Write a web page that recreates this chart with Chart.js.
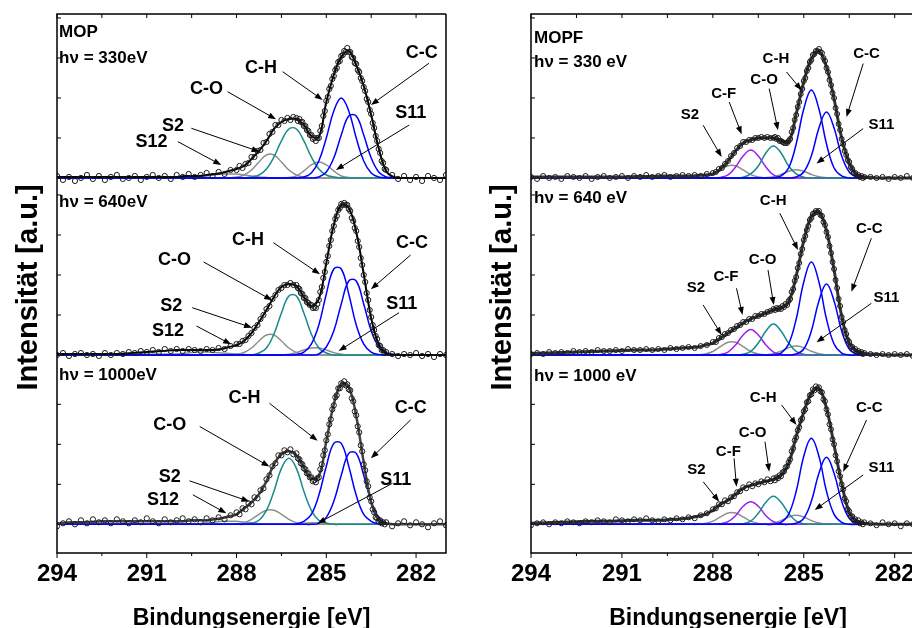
<!DOCTYPE html>
<html>
<head>
<meta charset="utf-8">
<script src="https://cdn.jsdelivr.net/npm/chart.js@4.4.1/dist/chart.umd.min.js"></script>
<style>
  html, body { margin: 0; padding: 0; background: #fff; width: 912px; height: 628px; overflow: hidden; }
  canvas { position: absolute; top: 0; }
  #mop { left: 0; }
  #mopf { left: 470px; }
</style>
</head>
<body>
<canvas id="mop" width="460" height="628"></canvas>
<canvas id="mopf" width="470" height="628"></canvas>
<script>
// binding energy grids [eV]
const dataE = [
  294, 293.8, 293.6, 293.4, 293.2, 293, 292.8, 292.6, 292.4, 292.2, 292, 291.8, 291.6, 291.4, 291.2,
  291, 290.8, 290.6, 290.4, 290.2, 290, 289.8, 289.6, 289.4, 289.2, 289, 288.8, 288.6, 288.4, 288.2,
  288, 287.9, 287.8, 287.7, 287.6, 287.5, 287.4, 287.3, 287.2, 287.1,
  287, 286.9, 286.8, 286.7, 286.6, 286.5, 286.4, 286.3, 286.2, 286.1,
  286, 285.95, 285.9, 285.85, 285.8, 285.75, 285.7, 285.65, 285.6, 285.55, 285.5, 285.45, 285.4, 285.35, 285.3,
  285.25, 285.2, 285.15, 285.1, 285.05, 285, 284.95, 284.9, 284.85, 284.8, 284.75, 284.7, 284.65, 284.6, 284.55,
  284.5, 284.45, 284.4, 284.35, 284.3, 284.25, 284.2, 284.15, 284.1, 284.05, 284, 283.95, 283.9, 283.85, 283.8,
  283.75, 283.7, 283.65, 283.6, 283.55, 283.5, 283.45, 283.4, 283.35, 283.3, 283.25, 283.2, 283.15, 283.1, 283.05, 283,
  282.8, 282.6, 282.4, 282.2, 282, 281.8, 281.6, 281.4, 281.2, 281
];
const fitE = [
  294, 293.5, 293, 292.5, 292, 291.5, 291, 290.5,
  290, 289.75, 289.5, 289.25, 289, 288.75, 288.5, 288.25, 288, 287.75, 287.5, 287.25, 287, 286.75, 286.5, 286.25,
  286, 285.75, 285.5, 285.25, 285, 284.75, 284.5, 284.25, 284, 283.75, 283.5, 283.25, 283, 282.75, 282.5, 282.25, 282,
  281.5, 281
];
const compE = [
  294,
  290, 289.75, 289.5, 289.25, 289, 288.75, 288.5, 288.25, 288, 287.75, 287.5, 287.25, 287, 286.75, 286.5, 286.25,
  286, 285.75, 285.5, 285.25, 285, 284.75, 284.5, 284.25, 284, 283.75, 283.5, 283.25, 283, 282.75, 282.5, 282.25, 282,
  281
];

const xTicks = [294, 291, 288, 285, 282];
const xMinor = [292.5, 289.5, 286.5, 283.5];

// MOP, hv = 330 eV
const mop330Data = [
  2, -2, 1, -3, 0, 3, -1, 2, -2, 1, 3, -1, 0, 2, -2, 1, 3, 0, 2, -1, 3, 1, 4, 1, 3, 5, 2, 6, 4, 8,
  8, 12, 10, 14, 15, 21, 21, 27, 28, 35, 36, 44, 46, 53, 53, 58, 57, 60, 58, 61,
  60, 57, 59, 56, 56, 52, 52, 48, 47, 43, 43, 39, 40, 37, 40, 40, 47, 52, 62, 67, 77, 81, 89, 92, 99,
  102, 108, 110, 116, 117, 122, 123, 127, 126, 130, 126, 126, 121, 120, 115, 114, 108, 106, 100, 97,
  91, 87, 79, 76, 68, 64, 55, 50, 42, 37, 29, 25, 17, 15, 9, 8,
  3, -1, 2, -2, 1, -3, 2, 0, -2, 3
];
const mop330Fit = [1, 1, 1, 1, 1, 1, 1, 1,
  1, 2, 2, 2, 3, 4, 5, 7, 9, 12, 19, 27, 37, 49, 56, 59, 59, 53, 42, 41, 76, 103, 121, 127, 113, 92, 63, 30, 7, 1, 0, 0, 0,
  0, 0];
const mop330CC  = [0,0,0,0,0,0,0,0,0,0, 0,0,0,0,0,0,0,0,0,0, 1,6,20,43,62,62,43,20,6,1, 0,0,0,0,0];
const mop330CH  = [0,0,0,0,0,0,0,0,0,0, 0,0,0,0,0,0,0,0, 1,5,17,40,67,80,67,40,17,5,1, 0,0,0,0,0,0];
const mop330CO  = [0,0,0,0,0,0,0,0,0,0, 0, 1,3,9,21,37,49,49,37,21,9,3,1, 0,0,0,0,0,0,0,0,0,0,0,0];
const mop330S2  = [0,0,0,0,0,0,0,0,0, 1,3,8,16,23,23,16,8,3,1, 0,0,0,0,0,0,0,0,0,0,0,0,0,0,0,0];
const mop330S11 = [0,0,0,0,0,0,0,0,0,0,0,0,0,0,0,0, 0.5,2,7,13,16,13,7,2,0.5, 0,0,0,0,0,0,0,0,0,0];
const mop330S12 = [0,0,0, 0.5,1,2,3,4,4,4,3,2,1,0.5, 0,0,0,0,0,0,0,0,0,0,0,0,0,0,0,0,0,0,0,0,0];

// MOP, hv = 640 eV
const mop640Data = [
  0, 2, -1, 1, 2, 0, 1, -1, 2, 0, 2, 1, 3, 2, 4, 3, 5, 3, 6, 4, 6, 4, 6, 5, 4, 6, 5, 7, 6, 9,
  11, 11, 14, 15, 19, 22, 27, 30, 36, 40, 46, 49, 56, 60, 65, 67, 70, 70, 72, 70,
  70, 67, 66, 62, 61, 57, 57, 53, 52, 50, 50, 47, 48, 47, 51, 55, 63, 68, 77, 83, 93, 99, 109, 115, 124,
  129, 136, 139, 145, 147, 151, 150, 152, 150, 150, 146, 144, 137, 134, 127, 124, 114, 108, 97, 90,
  80, 73, 62, 55, 45, 38, 30, 25, 19, 16, 10, 9, 5, 5, 2, 3,
  1, -1, 1, 0, 2, -1, 1, -2, 1, 0
];
const mop640Fit = [1, 1, 1, 1, 1, 2, 3, 4,
  5, 5, 5, 5, 5, 5, 6, 8, 10, 14, 22, 33, 45, 58, 68, 71, 69, 58, 49, 56, 92, 130, 150, 147, 123, 81, 37, 11, 2, 0.5, 0, 0, 0,
  0, 0];
const mop640CC  = [0,0,0,0,0,0,0,0,0,0, 0,0,0,0,0,0,0,0,0,0, 1,8,24,51,74,74,51,24,8,1, 0,0,0,0,0];
const mop640CH  = [0,0,0,0,0,0,0,0,0,0, 0,0,0,0,0,0,0, 0.5,3,11,30,61,86,86,61,30,11,3,0.5, 0,0,0,0,0,0];
const mop640CO  = [0,0,0,0,0,0,0,0,0,0, 0,0, 2,7,21,42,59,59,42,21,7,2, 0,0,0,0,0,0,0,0,0,0,0,0,0];
const mop640S2  = [0,0,0,0,0,0,0,0,0, 0.6,2.5,7,14,20,20,14,7,2.5,0.6, 0,0,0,0,0,0,0,0,0,0,0,0,0,0,0,0];
const mop640S11 = [0,0,0,0,0,0,0,0,0,0,0,0,0,0,0,0, 0.8,2.4,5,7,7,5,2.4,0.8, 0,0,0,0,0,0,0,0,0,0,0];
const mop640S12 = [0, 1,1.5,2.5,3,3,2.5,2,1.5,1,0.5, 0,0,0,0,0,0,0,0,0,0,0,0,0,0,0,0,0,0,0,0,0,0,0,0];

// MOP, hv = 1000 eV
const mop1000Data = [
  -2, 1, 3, 0, 4, 1, 5, 2, 4, 1, 5, 3, 1, 4, 2, 6, 3, 1, 5, 2, 4, 6, 3, 5, 2, 6, 4, 7, 5, 9,
  12, 10, 16, 15, 21, 20, 27, 26, 34, 36, 45, 49, 58, 61, 69, 69, 74, 72, 75, 70,
  71, 66, 65, 61, 60, 56, 55, 51, 51, 47, 47, 43, 44, 42, 46, 47, 55, 60, 69, 74, 84, 90, 100, 105, 115,
  119, 127, 129, 136, 136, 141, 140, 143, 139, 140, 135, 134, 126, 123, 113, 109, 98, 92, 79, 73,
  60, 54, 43, 38, 27, 23, 15, 12, 7, 6, 3, 4, 1, 2, 0, 2,
  -2, 1, 3, -1, 2, 0, -3, 1, 3, -1
];
const mop1000Fit = [1, 2, 2, 3, 3, 3, 3, 3,
  3, 3, 4, 4, 4, 5, 6, 8, 10, 16, 22, 30, 43, 60, 70, 73, 69, 57, 46, 48, 83, 120, 140, 137, 108, 62, 22, 4, 1, 0, 0, 0, 0,
  0, 0];
const mop1000CC  = [0,0,0,0,0,0,0,0,0,0, 0,0,0,0,0,0,0,0,0,0, 1,7,23,49,71,71,49,23,7,1, 0,0,0,0,0];
const mop1000CH  = [0,0,0,0,0,0,0,0,0,0, 0,0,0,0,0,0,0, 0.4,3,10,29,58,81,81,58,29,10,3,0.4, 0,0,0,0,0,0];
const mop1000CO  = [0,0,0,0,0,0,0,0,0,0, 0, 1,4,14,33,56,66,56,33,14,4,1, 0,0,0,0,0,0,0,0,0,0,0,0,0];
const mop1000S2  = [0,0,0,0,0,0,0,0,0, 0.4,1.7,5,10,14,14,10,5,1.7,0.4, 0,0,0,0,0,0,0,0,0,0,0,0,0,0,0,0];
const mop1000S11 = [0,0,0,0,0,0,0,0,0,0,0,0,0,0,0,0,0,0, 1,1.5,1.5,1, 0,0,0,0,0,0,0,0,0,0,0,0,0];
const mop1000S12 = [0,0,0,0, 0.5,1.5,2,3,3,3,2,1.5,0.5, 0,0,0,0,0,0,0,0,0,0,0,0,0,0,0,0,0,0,0,0,0,0];

// MOPF, hv = 330 eV
const mopf330Data = [
  1, -1, 2, 0, 1, -1, 2, 1, 0, 2, -1, 1, 2, 0, 1, 2, 0, 2, 1, 3, 1, 2, 3, 1, 2, 3, 2, 3, 2, 4,
  5, 6, 9, 10, 14, 17, 22, 25, 30, 32, 36, 36, 38, 38, 40, 40, 41, 40, 41, 40,
  40, 41, 39, 40, 37, 37, 36, 35, 35, 35, 37, 39, 46, 50, 58, 63, 71, 76, 84, 89, 97, 100, 107, 110, 116,
  118, 123, 124, 127, 127, 129, 126, 125, 120, 117, 110, 106, 98, 93, 85, 80, 70, 64, 54, 48,
  39, 34, 27, 23, 18, 16, 11, 9, 5, 5, 2, 3, 1, 2, 0, 1,
  1, 0, 1, -1, 1, 0, 2, 0, 1, -1
];
const mopf330Fit = [1, 1, 1, 1, 1, 1, 1, 1.5,
  1.5, 2, 2, 2, 2, 2, 2.5, 3, 4, 9, 17, 27, 35, 38, 40, 40, 40, 37, 36, 64, 96, 119, 127, 111, 79, 40, 15, 3, 1, 0.5, 0, 0, 0,
  0, 0];
const mopf330CH  = [0,0,0,0,0,0,0,0,0,0, 0,0,0,0,0,0,0,0, 2,10,34,69,88,69,34,10,2, 0,0,0,0,0,0,0,0];
const mopf330CC  = [0,0,0,0,0,0,0,0,0,0, 0,0,0,0,0,0,0,0,0,0, 1,6,22,50,66,50,22,6,1, 0,0,0,0,0,0];
const mopf330CO  = [0,0,0,0,0,0,0,0,0,0, 0,0,0, 0.7,4,12,25,32,25,12,4,0.7, 0,0,0,0,0,0,0,0,0,0,0,0,0];
const mopf330CF  = [0,0,0,0,0,0,0,0,0,0, 0.6,3,11,22,28,22,11,3,0.6, 0,0,0,0,0,0,0,0,0,0,0,0,0,0,0,0];
const mopf330S2  = [0,0,0,0,0,0,0,0, 1,3.4,8,12.3,12.3,8,3.4,1, 0,0,0,0,0,0,0,0,0,0,0,0,0,0,0,0,0,0,0];
const mopf330S11 = [0,0,0,0,0,0,0,0,0,0,0,0,0,0,0,0, 0.3,1.2,3.5,6.7,8.3,6.7,3.5,1.2,0.3, 0,0,0,0,0,0,0,0,0,0];

// MOPF, hv = 640 eV
const mopf640Data = [
  1, 2, 1, 3, 2, 3, 2, 4, 3, 4, 3, 5, 4, 4, 5, 4, 6, 5, 5, 6, 5, 6, 5, 7, 6, 7, 8, 7, 9, 10,
  13, 13, 17, 18, 21, 22, 25, 26, 29, 30, 33, 33, 36, 36, 39, 39, 41, 41, 43, 44,
  46, 45, 47, 46, 47, 46, 49, 48, 51, 50, 54, 56, 63, 66, 74, 78, 87, 92, 101, 106, 115, 119, 125, 129, 135,
  137, 141, 142, 144, 143, 144, 140, 139, 133, 130, 123, 118, 109, 102, 93, 86, 75, 67, 56, 49,
  38, 33, 25, 21, 15, 13, 9, 8, 5, 6, 3, 4, 2, 3, 1, 2,
  1, 0, 1, 0, 1, 0, 1, -1, 0, 1
];
const mopf640Fit = [1.5, 2, 2.5, 3, 3.5, 4, 4.5, 5,
  5, 5.5, 6, 6.5, 7, 7.5, 8, 10, 12, 17, 22, 27, 32, 36, 39, 42, 45, 47, 53, 79, 114, 138, 143, 124, 85, 39, 12, 4, 1.5, 1, 0.5, 0, 0,
  0, 0];
const mopf640CH  = [0,0,0,0,0,0,0,0,0,0, 0,0,0,0,0,0,0,0, 2,11,36,73,93,73,36,11,2, 0,0,0,0,0,0,0,0];
const mopf640CC  = [0,0,0,0,0,0,0,0,0,0, 0,0,0,0,0,0,0,0,0,0, 1,6,24,54,71,54,24,6,1, 0,0,0,0,0,0];
const mopf640CO  = [0,0,0,0,0,0,0,0,0,0, 0,0,0, 0.7,3.6,12,24,31,24,12,3.6,0.7, 0,0,0,0,0,0,0,0,0,0,0,0,0];
const mopf640CF  = [0,0,0,0,0,0,0,0,0,0, 0.5,3,10,20,25.5,20,10,3,0.5, 0,0,0,0,0,0,0,0,0,0,0,0,0,0,0,0];
const mopf640S2  = [0,0,0,0,0,0,0,0, 1,3.5,8.3,12.8,12.8,8.3,3.5,1, 0,0,0,0,0,0,0,0,0,0,0,0,0,0,0,0,0,0,0];
const mopf640S11 = [0,0,0,0,0,0,0,0,0,0,0,0,0,0,0,0, 0.3,1.3,3.8,7.3,9,7.3,3.8,1.3,0.3, 0,0,0,0,0,0,0,0,0,0];

// MOPF, hv = 1000 eV
const mopf1000Data = [
  -1, 1, 2, 0, 2, 1, 3, 2, 1, 3, 2, 4, 3, 2, 5, 4, 3, 5, 4, 6, 4, 3, 5, 4, 6, 5, 7, 6, 9, 11,
  15, 16, 20, 20, 24, 23, 27, 28, 32, 33, 37, 36, 40, 38, 41, 40, 43, 42, 45, 43,
  46, 44, 47, 46, 49, 48, 52, 53, 57, 58, 62, 65, 73, 76, 84, 87, 94, 97, 104, 106, 113, 115, 122, 123, 129,
  130, 135, 134, 138, 136, 137, 133, 132, 125, 123, 115, 110, 100, 95, 85, 80, 69, 63, 53, 48,
  40, 35, 26, 23, 15, 13, 8, 8, 4, 5, 2, 4, 1, 2, 0, 2,
  1, -1, 2, 0, 1, -2, 1, 0, 2, -1
];
const mopf1000Fit = [1, 1.5, 2, 2.5, 3, 3, 3.5, 4,
  4, 4, 4.5, 5, 5.5, 6.5, 8, 10, 14, 20, 24, 30, 36, 39, 41, 43, 45, 49, 61, 88, 112, 131, 136, 116, 79, 41, 12, 3, 1, 0.5, 0, 0, 0,
  0, 0];
const mopf1000CH  = [0,0,0,0,0,0,0,0,0,0, 0,0,0,0,0,0,0,0, 2,10,33,68,86,68,33,10,2, 0,0,0,0,0,0,0,0];
const mopf1000CC  = [0,0,0,0,0,0,0,0,0,0, 0,0,0,0,0,0,0,0,0,0, 1,6,23,51,67,51,23,6,1, 0,0,0,0,0,0];
const mopf1000CO  = [0,0,0,0,0,0,0,0,0,0, 0,0,0, 0.6,3.2,11,22,28,22,11,3.2,0.6, 0,0,0,0,0,0,0,0,0,0,0,0,0];
const mopf1000CF  = [0,0,0,0,0,0,0,0,0,0, 0.5,2.6,8.6,18,22.5,18,8.6,2.6,0.5, 0,0,0,0,0,0,0,0,0,0,0,0,0,0,0,0];
const mopf1000S2  = [0,0,0,0,0,0,0,0, 0.9,3.2,7.4,11.4,11.4,7.4,3.2,0.9, 0,0,0,0,0,0,0,0,0,0,0,0,0,0,0,0,0,0,0];
const mopf1000S11 = [0,0,0,0,0,0,0,0,0,0,0,0,0,0,0,0, 0.3,1.3,3.8,7.3,9,7.3,3.8,1.3,0.3, 0,0,0,0,0,0,0,0,0,0];

// peak labels: [axis, text, label E, label I, arrow from E, from I, arrow to E, to I]
const mopLabels = [
  ['yTop', 'C-O', 289.0, 88.7, 288.3, 86.3, 286.68, 58.7],
  ['yTop', 'C-H', 287.18, 109.7, 286.46, 106.3, 285.12, 78],
  ['yTop', 'C-C', 281.81, 124.7, 281.57, 114.7, 283.51, 73],
  ['yTop', 'S11', 282.18, 64.7, 282.23, 53, 284.68, 8],
  ['yTop', 'S2', 290.12, 52, 289.51, 49.7, 287.23, 26.3],
  ['yTop', 'S12', 290.84, 36.3, 289.96, 36.3, 288.51, 13],
  ['yMid', 'C-O', 290.07, 94.7, 289.1, 93, 286.81, 54.7],
  ['yMid', 'C-H', 287.62, 114.7, 286.77, 112.3, 285.21, 80.7],
  ['yMid', 'C-C', 282.14, 112.3, 282.18, 100, 283.51, 65.7],
  ['yMid', 'S11', 282.48, 50.7, 282.57, 42.3, 284.59, 4],
  ['yMid', 'S2', 290.18, 49, 289.48, 47.3, 287.48, 27.3],
  ['yMid', 'S12', 290.29, 24, 289.34, 29, 288.18, 10.7],
  ['yBot', 'C-O', 290.23, 99.5, 289.23, 97.8, 286.9, 57.8],
  ['yBot', 'C-H', 287.73, 126, 286.9, 121, 285.29, 83.5],
  ['yBot', 'C-C', 282.18, 116, 282.18, 104.5, 283.51, 66],
  ['yBot', 'S11', 282.68, 44.5, 282.79, 41, 285.29, 1],
  ['yBot', 'S2', 290.23, 46.8, 289.57, 43.5, 287.57, 22.8],
  ['yBot', 'S12', 290.46, 24.5, 289.46, 29.5, 288.34, 11]
];
const mopfLabels = [
  ['yTop', 'S2', 288.76, 62.7, 288.32, 52.7, 287.71, 21],
  ['yTop', 'C-F', 287.64, 83.7, 287.46, 76, 287.05, 43.7],
  ['yTop', 'C-O', 286.31, 97.7, 286.14, 89.4, 285.85, 47.7],
  ['yTop', 'C-H', 285.92, 119.4, 285.57, 106, 285.07, 87.7],
  ['yTop', 'C-C', 282.93, 124.4, 283.04, 114.4, 283.59, 61],
  ['yTop', 'S11', 282.44, 52.7, 283.04, 49.4, 284.58, 14.4],
  ['yMid', 'S2', 288.56, 66.7, 288.32, 50, 287.71, 20],
  ['yMid', 'C-F', 287.57, 78.3, 287.22, 66.7, 287.02, 40],
  ['yMid', 'C-O', 286.36, 95, 286.18, 85, 285.99, 50],
  ['yMid', 'C-H', 286.01, 154.3, 285.79, 141.7, 285.19, 105],
  ['yMid', 'C-C', 282.84, 125.7, 282.77, 116.7, 283.43, 63.3],
  ['yMid', 'S11', 282.27, 56.7, 282.77, 51.7, 284.58, 12.7],
  ['yBot', 'S2', 288.54, 54.3, 288.32, 42.6, 287.79, 22.6],
  ['yBot', 'C-F', 287.49, 72.6, 287.3, 66, 287.22, 37.6],
  ['yBot', 'C-O', 286.69, 91, 286.28, 82.6, 286.14, 52.6],
  ['yBot', 'C-H', 286.34, 126, 285.73, 119.3, 285.24, 99.3],
  ['yBot', 'C-C', 282.84, 116, 282.93, 104.3, 283.7, 52.6],
  ['yBot', 'S11', 282.44, 56, 283.04, 49.3, 284.64, 14.3]
];
const mopHeads = [
  ['yTop', 'MOP', 293.93, 146],
  ['yTop', 'h\u03BD = 330eV', 293.93, 120],
  ['yMid', 'h\u03BD = 640eV', 293.93, 153],
  ['yBot', 'h\u03BD = 1000eV', 293.93, 149.3]
];
const mopfHeads = [
  ['yTop', 'MOPF', 293.9, 140],
  ['yTop', 'h\u03BD = 330 eV', 293.9, 116],
  ['yMid', 'h\u03BD = 640 eV', 293.9, 157],
  ['yBot', 'h\u03BD = 1000 eV', 293.9, 147.6]
];

const BLUE = '#0000ff', TEAL = '#188a8a', GREY = '#8e8e8e', PURPLE = '#9b1ff2';
const FONT = '"Liberation Sans", Arial, Helvetica, sans-serif';

function xy(xs, ys) {
  return xs.map((x, i) => ({ x, y: ys[i] }));
}

function spectrumSets(axis, data, fit, comps, look) {
  const sets = [{
    data: xy(dataE, data), yAxisID: axis, showLine: false,
    pointRadius: look.r, pointBorderWidth: 1, pointBorderColor: '#1a1a1a',
    pointBackgroundColor: 'rgba(0,0,0,0)'
  }, {
    data: xy(fitE, fit), yAxisID: axis, borderColor: look.fitColor,
    borderWidth: look.fitWidth, pointRadius: 0, tension: 0.4
  }];
  comps.forEach(([vals, color]) => sets.push({
    data: xy(compE, vals), yAxisID: axis, borderColor: color,
    borderWidth: 1.5, pointRadius: 0, tension: 0.4
  }));
  return sets;
}

function arrow(ctx, x0, y0, x1, y1) {
  const a = Math.atan2(y1 - y0, x1 - x0), len = 8, half = 3;
  const c = Math.cos(a), s = Math.sin(a);
  ctx.beginPath();
  ctx.moveTo(x0, y0);
  ctx.lineTo(x1 - c * len * 0.8, y1 - s * len * 0.8);
  ctx.stroke();
  ctx.beginPath();
  ctx.moveTo(x1, y1);
  ctx.lineTo(x1 - len * c + half * s, y1 - len * s - half * c);
  ctx.lineTo(x1 - len * c - half * s, y1 - len * s + half * c);
  ctx.closePath();
  ctx.fill();
}

function makeDecor(cfg) {
  return {
    id: 'decor',
    afterDatasetsDraw(chart) {
      const { ctx, chartArea: a, scales } = chart;
      const sx = scales.x;
      ctx.save();
      // frame
      ctx.strokeStyle = '#000';
      ctx.lineWidth = 1.5;
      ctx.beginPath();
      ctx.moveTo(a.right, a.top);
      ctx.lineTo(a.left, a.top);
      ctx.lineTo(a.left, a.bottom);
      ctx.lineTo(a.right, a.bottom);
      ctx.lineTo(a.right, a.top);
      ctx.stroke();
      // ticks
      ctx.lineWidth = 1;
      ctx.beginPath();
      xTicks.forEach(v => {
        const p = sx.getPixelForValue(v);
        ctx.moveTo(p, a.bottom); ctx.lineTo(p, a.bottom + 5);
        ctx.moveTo(p, a.top); ctx.lineTo(p, a.top + 4);
      });
      xMinor.forEach(v => {
        const p = sx.getPixelForValue(v);
        ctx.moveTo(p, a.bottom); ctx.lineTo(p, a.bottom + 3);
        ctx.moveTo(p, a.top); ctx.lineTo(p, a.top + 4);
      });
      ['yTop', 'yMid', 'yBot'].forEach(id => {
        const s = scales[id];
        for (let v = 40; v < s.max; v += 40) {
          const p = s.getPixelForValue(v);
          ctx.moveTo(a.left, p); ctx.lineTo(a.left + 4, p);
        }
      });
      ctx.stroke();

      ctx.fillStyle = '#000';
      // tick labels and axis titles
      ctx.font = 'bold 24px ' + FONT;
      ctx.textAlign = 'center';
      ctx.textBaseline = 'alphabetic';
      xTicks.forEach(v => ctx.fillText(String(v), sx.getPixelForValue(v), a.bottom + 28));
      ctx.font = 'bold 23px ' + FONT;
      ctx.fillText('Bindungsenergie [eV]', (a.left + a.right) / 2, a.bottom + 72);
      ctx.save();
      ctx.translate(a.left - 20, (a.top + a.bottom) / 2 + 4);
      ctx.rotate(-Math.PI / 2);
      ctx.font = 'bold 29px ' + FONT;
      ctx.fillText('Intensit\u00E4t [a.u.]', 0, 0);
      ctx.restore();

      // headers
      ctx.font = 'bold 17px ' + FONT;
      ctx.textAlign = 'left';
      ctx.textBaseline = 'middle';
      cfg.heads.forEach(([axis, text, e, h]) => {
        ctx.fillText(text, sx.getPixelForValue(e), scales[axis].getPixelForValue(h));
      });
      // peak labels with arrows
      ctx.font = 'bold ' + cfg.labelSize + 'px ' + FONT;
      ctx.textAlign = 'center';
      ctx.lineWidth = 1;
      cfg.labels.forEach(([axis, text, te, th, fe, fh, ee, eh]) => {
        const sy = scales[axis];
        ctx.fillText(text, sx.getPixelForValue(te), sy.getPixelForValue(th));
        arrow(ctx, sx.getPixelForValue(fe), sy.getPixelForValue(fh),
          sx.getPixelForValue(ee), sy.getPixelForValue(eh));
      });
      ctx.restore();
    }
  };
}

function yScale(min, max, weight, width) {
  return {
    type: 'linear', position: 'left', stack: 'panel', stackWeight: 1, weight,
    min, max,
    ticks: { display: false }, grid: { display: false }, border: { display: false },
    afterFit(s) { s.width = width; }
  };
}

function buildPanel(canvasId, datasets, cfg) {
  return new Chart(document.getElementById(canvasId), {
    type: 'line',
    data: { datasets },
    options: {
      responsive: false,
      animation: false,
      devicePixelRatio: 1,
      events: [],
      layout: { padding: { top: 14, right: cfg.padRight, bottom: 0, left: 0 } },
      plugins: { legend: { display: false }, tooltip: { enabled: false } },
      scales: {
        x: {
          type: 'linear', reverse: true, min: 281, max: 294,
          ticks: { display: false }, grid: { display: false }, border: { display: false },
          afterFit(s) { s.height = 75; }
        },
        yTop: yScale(-15.7, 164, 3, cfg.yWidth),
        yMid: yScale(-18.3, 161.3, 2, cfg.yWidth),
        yBot: yScale(-28.7, 151, 1, cfg.yWidth)
      }
    },
    plugins: [makeDecor(cfg)]
  });
}

const leftLook = { r: 2.6, fitColor: '#000', fitWidth: 2 };
const rightLook = { r: 2.5, fitColor: '#333', fitWidth: 3 };

buildPanel('mop', [
  ...spectrumSets('yTop', mop330Data, mop330Fit,
    [[mop330CH, BLUE], [mop330CC, BLUE], [mop330CO, TEAL], [mop330S2, GREY], [mop330S11, GREY], [mop330S12, GREY]], leftLook),
  ...spectrumSets('yMid', mop640Data, mop640Fit,
    [[mop640CH, BLUE], [mop640CC, BLUE], [mop640CO, TEAL], [mop640S2, GREY], [mop640S11, GREY], [mop640S12, GREY]], leftLook),
  ...spectrumSets('yBot', mop1000Data, mop1000Fit,
    [[mop1000CH, BLUE], [mop1000CC, BLUE], [mop1000CO, TEAL], [mop1000S2, GREY], [mop1000S11, GREY], [mop1000S12, GREY]],
    { r: 2.6, fitColor: '#444', fitWidth: 2.5 })
], { heads: mopHeads, labels: mopLabels, labelSize: 18, yWidth: 57, padRight: 14 });

buildPanel('mopf', [
  ...spectrumSets('yTop', mopf330Data, mopf330Fit,
    [[mopf330CH, BLUE], [mopf330CC, BLUE], [mopf330CO, TEAL], [mopf330CF, PURPLE], [mopf330S2, GREY], [mopf330S11, GREY]], rightLook),
  ...spectrumSets('yMid', mopf640Data, mopf640Fit,
    [[mopf640CH, BLUE], [mopf640CC, BLUE], [mopf640CO, TEAL], [mopf640CF, PURPLE], [mopf640S2, GREY], [mopf640S11, GREY]], rightLook),
  ...spectrumSets('yBot', mopf1000Data, mopf1000Fit,
    [[mopf1000CH, BLUE], [mopf1000CC, BLUE], [mopf1000CO, TEAL], [mopf1000CF, PURPLE], [mopf1000S2, GREY], [mopf1000S11, GREY]], rightLook)
], { heads: mopfHeads, labels: mopfLabels, labelSize: 15, yWidth: 61, padRight: 15 });
</script>
</body>
</html>
